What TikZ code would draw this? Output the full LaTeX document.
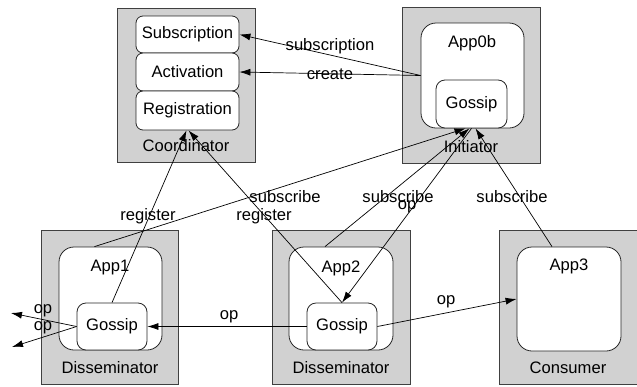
\documentclass[tikz,border=0pt]{standalone}
\usepackage{fontspec}
\setmainfont{Liberation Sans}
\usetikzlibrary{arrows.meta}
\definecolor{boxgrey}{RGB}{209,209,209}
\begin{document}
\begin{tikzpicture}[x=1pt,y=-1pt,
  font=\fontsize{16.6}{18}\selectfont,
  container/.style={draw=black!75,fill=boxgrey,line width=0.8pt,inner sep=0pt},
  appbox/.style={draw=black!85,fill=white,line width=0.8pt,rounded corners=15pt,inner sep=0pt},
  gossipbox/.style={draw=black!85,fill=white,line width=0.8pt,rounded corners=9pt,inner sep=0pt},
  partbox/.style={draw=black!85,fill=white,line width=0.8pt,rounded corners=7pt,inner sep=0pt,minimum width=103pt},
  lbl/.style={inner sep=0pt},
  conn/.style={line width=0.7pt,-{Latex[length=11pt,width=7pt]}},
  line/.style={line width=0.7pt}]
\useasboundingbox (0,0) rectangle (637,386);
% Coordinator
\node[container,minimum width=138pt,minimum height=154pt] (coord) at (186,85) {};
\node[partbox,minimum height=37pt] (sub) at (187.5,34.5) {Subscription};
\node[partbox,minimum height=38pt] (act) at (187.5,72) {Activation};
\node[partbox,minimum height=39pt] (reg) at (187.5,110.5) {Registration};
\node[lbl] (coordl) at (186,146) {Coordinator};
% Initiator
\node[container,minimum width=138pt,minimum height=156pt] (init) at (471,85) {};
\node[appbox,minimum width=103pt,minimum height=105pt] (app0) at (472.5,75.5) {};
\node[gossipbox,minimum width=71pt,minimum height=48pt] (g0) at (471.5,104) {Gossip};
\node[lbl] (app0l) at (472,43) {App0b};
\node[lbl] (initl) at (471,147) {Initiator};
% Disseminator 1
\node[container,minimum width=137pt,minimum height=154pt] (d1) at (109.5,307) {};
\node[appbox,minimum width=103pt,minimum height=103pt] (app1) at (110.5,298.5) {};
\node[gossipbox,minimum width=70pt,minimum height=47pt] (g1) at (112,326.5) {Gossip};
\node[lbl] (app1l) at (110,268) {App1};
\node[lbl] (d1l) at (110,368) {Disseminator};
% Disseminator 2
\node[container,minimum width=138pt,minimum height=154pt] (d2) at (341,307) {};
\node[appbox,minimum width=104pt,minimum height=103pt] (app2) at (341,298.5) {};
\node[gossipbox,minimum width=70pt,minimum height=47pt] (g2) at (342,326.5) {Gossip};
\node[lbl] (app2l) at (341,268) {App2};
\node[lbl] (d2l) at (341,368) {Disseminator};
% Consumer
\node[container,minimum width=138pt,minimum height=154pt] (cons) at (568,307) {};
\node[appbox,minimum width=104pt,minimum height=104pt] (app3) at (569,299) {};
\node[lbl] (app3l) at (569,266) {App3};
\node[lbl] (consl) at (568,368) {Consumer};
% free ends
\coordinate (opa) at (11,313);
\coordinate (opb) at (12,347);
% connectors
\draw[conn] (app0.west) -- (sub.east);
\draw[conn] (app0.west) -- (act.east);
\draw[conn] (g1.north) -- ([xshift=-1pt]reg.south);
\draw[conn] (g2.north) -- ([xshift=1pt]reg.south);
\draw[conn] ([xshift=-16pt]app1.north) -- ([xshift=-6pt]g0.south);
\draw[conn] ([xshift=-16pt]app2.north) -- ([xshift=-2pt]g0.south);
\draw[conn] ([xshift=0pt]g0.south) -- (g2.north);
\draw[conn] ([xshift=-17pt]app3.north) -- ([xshift=4pt]g0.south);
\draw[conn] (g2.west) -- (g1.east);
\draw[conn] (g2.east) -- (app3.west);
\draw[conn] (g1.west) -- (opa);
\draw[conn] (g1.west) -- (opb);
% labels
\node[lbl] at (330,46) {subscription};
\node[lbl] at (330,74) {create};
\node[lbl] at (148,216) {register};
\node[lbl] at (264,216) {register};
\node[lbl] at (285,197) {subscribe};
\node[lbl] at (398,197) {subscribe};
\node[lbl] at (407,207) {op};
\node[lbl] at (512,197) {subscribe};
\node[lbl] at (229,317) {op};
\node[lbl] at (446,302) {op};
\node[lbl] at (43,311) {op};
\node[lbl] at (43,328) {op};
\end{tikzpicture}
\end{document}
